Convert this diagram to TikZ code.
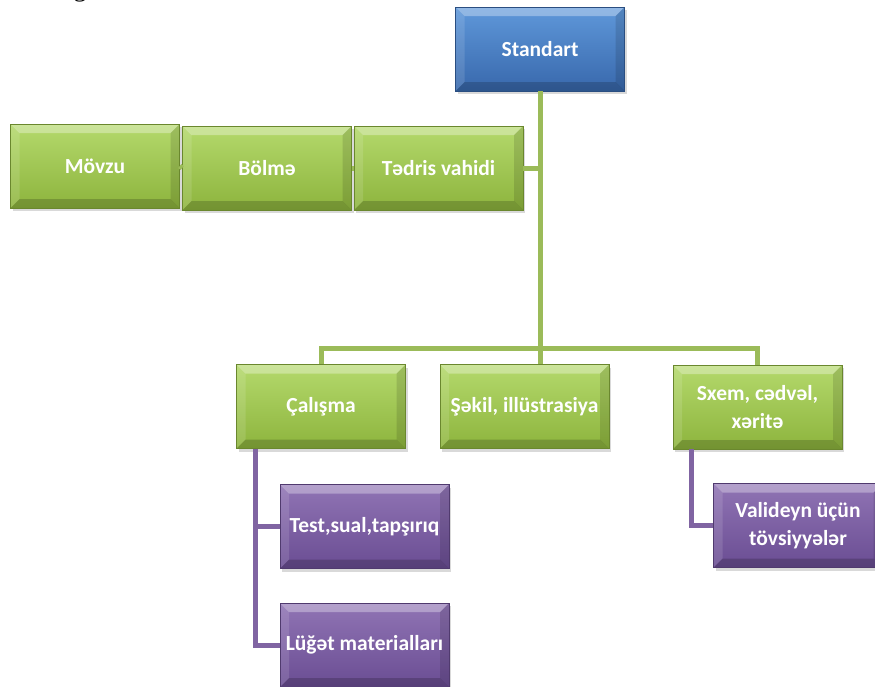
\documentclass[tikz,border=0pt]{standalone}
\usepackage{fontspec}
\setmainfont{Liberation Serif}
\newfontfamily\boxfont{Carlito}
\usepackage{tikz}
\usetikzlibrary{positioning}
\usetikzlibrary{shadows,calc}
\definecolor{grtop}{HTML}{B4D96C}
\definecolor{grbot}{HTML}{8DB43D}
\definecolor{grline}{HTML}{9BBB59}
\definecolor{bltop}{HTML}{5F98DA}
\definecolor{blbot}{HTML}{3868AC}
\definecolor{putop}{HTML}{9074B4}
\definecolor{pubot}{HTML}{6A4D93}
\definecolor{puline}{HTML}{8064A2}
\tikzset{bevel/.style={path picture={
  \fill[white,opacity=0.32] (path picture bounding box.north west) -- (path picture bounding box.north east) -- ([shift={(-9pt,-9pt)}]path picture bounding box.north east) -- ([shift={(9pt,-9pt)}]path picture bounding box.north west) -- cycle;
  \fill[white,opacity=0.12] (path picture bounding box.north west) -- ([shift={(9pt,-9pt)}]path picture bounding box.north west) -- ([shift={(9pt,9pt)}]path picture bounding box.south west) -- (path picture bounding box.south west) -- cycle;
  \fill[black,opacity=0.12] (path picture bounding box.north east) -- ([shift={(-9pt,-9pt)}]path picture bounding box.north east) -- ([shift={(-9pt,9pt)}]path picture bounding box.south east) -- (path picture bounding box.south east) -- cycle;
  \fill[black,opacity=0.18] (path picture bounding box.south west) -- (path picture bounding box.south east) -- ([shift={(-9pt,9pt)}]path picture bounding box.south east) -- ([shift={(9pt,9pt)}]path picture bounding box.south west) -- cycle;
}}}
\tikzstyle{smart} = [minimum width=169pt, minimum height=84pt, inner sep=0pt, text=white, align=center, font=\boxfont\bfseries\fontsize{21.5}{28}\selectfont, drop shadow={opacity=0.3, shadow xshift=2pt, shadow yshift=-3pt}, bevel]
\tikzstyle{grbox} = [smart, top color=grtop, bottom color=grbot, draw=grbot!75!black, line width=0.5pt]
\tikzstyle{blbox} = [smart, top color=bltop, bottom color=blbot, draw=blbot!75!black, line width=0.5pt]
\tikzstyle{pubox} = [smart, top color=putop, bottom color=pubot, draw=pubot!75!black, line width=0.5pt]
\tikzstyle{gline} = [line width=5pt, color=grline]
\tikzstyle{pline} = [line width=5pt, color=puline]

\begin{document}
\begin{tikzpicture}[x=1pt,y=-1pt]
      \path[use as bounding box] (0,0) rectangle (875,686);
      \clip (0,0) rectangle (875,686);
      %%%%%%%%%%%%%%%%%%%%%%%%%%%%%%%%%%%%%%%
      \draw (80,-3.5) node (gfrag) [anchor=base, font=\fontsize{26}{30}\selectfont] {g};
      \draw (540,49) node (std) [blbox] {Standart};
      \draw (95,166) node (movzu) [grbox] {Mövzu};
      \draw (267,168) node (bolme) [grbox] {Bölmə};
      \draw (438.5,168) node (tedris) [grbox] {Tədris vahidi};
      \draw (321,406.5) node (calisma) [grbox] {Çalışma};
      \draw (524.5,406.5) node (sekil) [grbox] {Şəkil, illüstrasiya};
      \draw (757.5,407) node (sxem) [grbox] {Sxem, cədvəl,\\xəritə};
      \draw (364.5,526.5) node (test) [pubox] {Test,sual,tapşırıq};
      \draw (364.5,645) node (luget) [pubox] {Lüğət materialları};
      \draw (798,525.5) node (valid) [pubox] {Valideyn üçün\\tövsiyyələr};
      \coordinate (bus) at (540,348);
      %\coordinate (hub) at (540,168);
      \draw[gline] (std.south)--(std.south |- sekil.north);
      \draw[gline] (tedris.east)--(tedris.east -| std.south);
      \draw[gline] (tedris.west)--(bolme.east);
      \draw[gline] (bolme.west)--(movzu.east);
      \draw[gline] (calisma.north) |- (bus) -| (sxem.north);
      \draw[pline] ([xshift=19pt]calisma.south west) |- (test.west);
      \draw[pline] ([xshift=19pt]calisma.south west) |- (luget.west);
      \draw[pline] ([xshift=19pt]sxem.south west) |- (valid.west);
      \end{tikzpicture}
\end{document}
